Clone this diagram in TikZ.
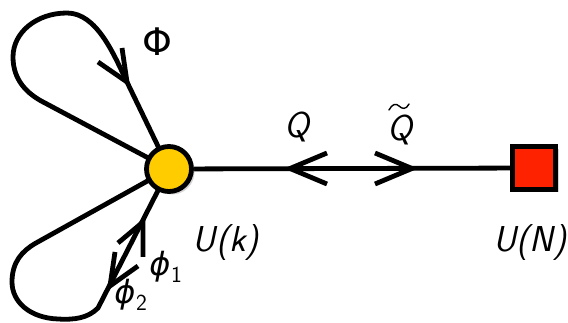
\documentclass[tikz,border=0pt]{standalone}
\usepackage{fontspec}
\newfontfamily\grk{DejaVu Sans}
\usetikzlibrary{shadows,backgrounds}
\definecolor{gold}{RGB}{255,204,0}
\definecolor{flred}{RGB}{255,34,0}
\begin{document}
\begin{tikzpicture}[x=1pt,y=-1pt,
  wire/.style={line width=4.8pt, line cap=butt, line join=round},
  chev/.style={line width=4.8pt, line cap=butt, line join=miter, miter limit=12},
  lbl/.style={font=\fontsize{36}{38}\selectfont\sffamily\itshape, inner sep=0pt},
  glbl/.style={font=\fontsize{32}{34}\selectfont\grk\itshape, inner sep=0pt},
  sub/.style={font=\fontsize{23}{24}\selectfont\sffamily, inner sep=0pt},
  gauge/.style={circle, draw, line width=4.8pt, fill=gold, minimum size=45pt, inner sep=0pt,
    drop shadow={shadow xshift=3pt, shadow yshift=-3pt, opacity=0.35}},
  flavor/.style={rectangle, draw, line width=4.8pt, fill=flred, minimum size=43pt, inner sep=0pt,
    drop shadow={shadow xshift=3pt, shadow yshift=-3pt, opacity=0.35}}]
\useasboundingbox (0,0) rectangle (568,323);
\node[gauge] (k) at (169,169) {};
\node[flavor] (n) at (534,168) {};
\begin{scope}[on background layer]
  % top loop Phi
  \coordinate (a1) at (127,82);
  \coordinate (t1) at (67,13);
  \coordinate (l1) at (13,57);
  \coordinate (b1) at (45,103);
  \draw[wire] (k.center) -- (a1) .. controls (114,55) and (97,13) .. (t1)
     .. controls (37,13) and (13,32) .. (l1)
     .. controls (13,80) and (27,94) .. (b1) -- (k.center);
  % bottom loop phi
  \coordinate (a2) at (98,308);
  \coordinate (t2) at (58,319);
  \coordinate (l2) at (12,282);
  \coordinate (b2) at (36,243);
  \draw[wire] (k.center) -- (a2) .. controls (88,318) and (75,320) .. (t2)
     .. controls (30,318) and (12,302) .. (l2)
     .. controls (12,262) and (22,251) .. (b2) -- (k.center);
  % line to flavor node
  \draw[wire] (k) -- (n);
\end{scope}
% chevrons
\draw[chev] (122,48) -- (127,82) -- (98,62);
\draw[chev] (143,257) -- (143,222) -- (118,243);
\draw[chev] (115,252) -- (110,286) -- (138,266);
\draw[chev] (327,153) -- (290,168.5) -- (327,184);
\draw[chev] (375,153) -- (412,168.5) -- (375,184);
% labels
\node[font=\fontsize{38}{40}\selectfont\grk, inner sep=0pt] (phiL) at (157,42) {Φ};
\node[lbl] (qL) at (297,127) {Q};
\node[lbl] (qtL) at (400,130) {Q};
\draw[line width=1.4pt, line cap=round] (389,110) .. controls (392,104) and (396,103) .. (399,106)
   .. controls (402,109) and (406,110) .. (409,104);
\node[glbl] (p1) at (160,267) {ϕ};
\node[sub, anchor=west] (p1s) at (171,275) {1};
\node[glbl] (p2) at (125,295) {ϕ};
\node[sub, anchor=west] (p2s) at (136,303) {2};
\node[lbl] (uk) at (226,243) {U(k)};
\node[lbl, anchor=east] (un) at (567,243) {U(N)};
\end{tikzpicture}
\end{document}
